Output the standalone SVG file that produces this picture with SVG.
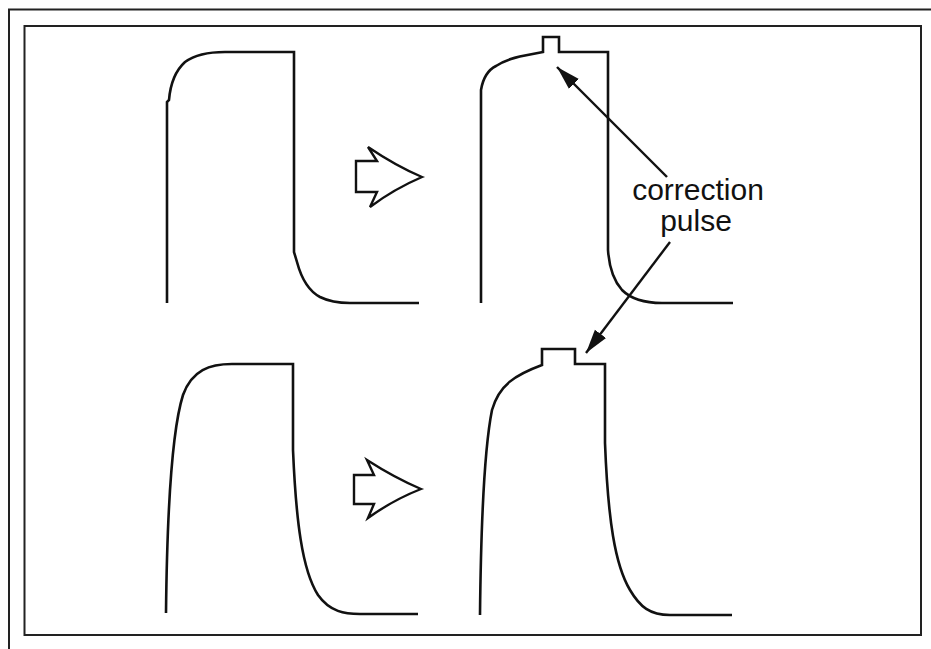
<svg xmlns="http://www.w3.org/2000/svg" width="931" height="649" viewBox="0 0 931 649">
<defs>
<style>
.frame{fill:none;stroke:#222;stroke-width:2}
.wave{fill:none;stroke:#111;stroke-width:2.6;stroke-linejoin:miter}
.big{fill:#fff;stroke:#111;stroke-width:2.4;stroke-linejoin:miter}
.conn{fill:none;stroke:#111;stroke-width:2.4}
.lbl{font-family:"Liberation Sans",Arial,sans-serif;font-size:30px;fill:#111;text-anchor:middle}
</style>
<marker id="ah" markerUnits="userSpaceOnUse" markerWidth="26" markerHeight="16" refX="24" refY="8" orient="auto">
<path d="M0,1 L24,8 L0,15 Z" fill="#111"/>
</marker>
</defs>
<rect width="931" height="649" fill="#fff"/>
<g id="frame">
<path class="frame" d="M9,649 L9,9.5 L931,9.5"/>
<rect class="frame" x="24.5" y="26" width="896.5" height="609"/>
</g>
<g id="wave-top-left">
<path class="wave" d="M167,303 L167,102 L169,100 C170,88 174,72 185,62 C196,54 210,52 225,52 L294,52 L294,252 L297,262 C301,277 307,290 320,297 C330,302 340,303 350,303 L419,303"/>
</g>
<g id="arrow-top">
<path class="big" d="M356,161 L377,161 L368,147 Q396,166 422,177 Q394,189 370,207 L377,192 L356,192 Z"/>
</g>
<g id="wave-top-right">
<path class="wave" d="M481,303 L481,90 C483,78 488,70 496,66 C506,59 520,56 543,52 L543,37 L559,37 L559,52 L608,52 L608,250 C609,265 613,280 622,290 C632,300 645,303 662,303 L733,303"/>
</g>
<g id="wave-bottom-left">
<path class="wave" d="M166,613 C167,520 172,430 183,395 C192,370 210,364 232,364 L293,364 L293,450 C296,520 302,570 318,595 C330,612 345,614 360,614 L418,614"/>
</g>
<g id="arrow-bottom">
<path class="big" d="M354,475 L374,475 L367,460 Q395,478 421,489 Q393,500 368,518 L374,504 L354,504 Z"/>
</g>
<g id="wave-bottom-right">
<path class="wave" d="M480,615 C481,520 484,450 492,410 C499,385 515,375 542,365 L542,349 L575,349 L575,364 L605,364 L605,443 C608,520 615,565 630,590 C640,607 650,615 670,615 L732,615"/>
</g>
<g id="label">
<text class="lbl"><tspan x="698" y="200">correction</tspan><tspan x="696" y="231">pulse</tspan></text>
</g>
<g id="connectors">
<path class="conn" d="M667,177 L557,67" marker-end="url(#ah)"/>
<path class="conn" d="M670,242 L586,353" marker-end="url(#ah)"/>
</g>
</svg>
